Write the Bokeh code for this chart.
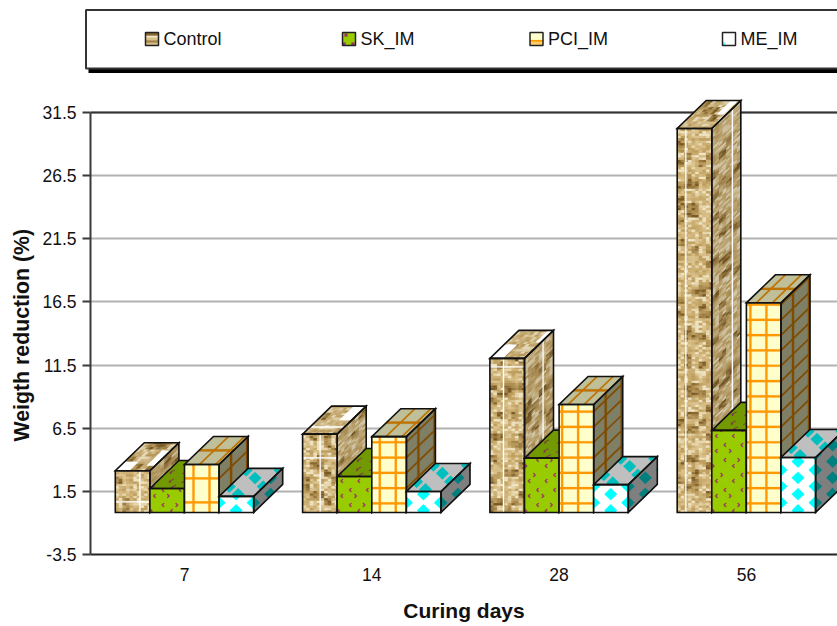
from bokeh.core.properties import value
from bokeh.embed import file_html
from bokeh.layouts import column, row
from bokeh.models import FixedTicker, Range1d, Span, Title
from bokeh.plotting import figure
from bokeh.resources import INLINE

# Weight reduction per curing age
categories = ["7", "14", "28", "56"]
control = [3.3, 6.2, 12.2, 30.4]
sk_im = [1.9, 2.85, 4.3, 6.5]
pci_im = [3.8, 6.0, 8.55, 16.6]
me_im = [1.27, 1.66, 2.2, 4.35]
series_names = ["Control", "SK_IM", "PCI_IM", "ME_IM"]
y_ticks = [-3.5, 1.5, 6.5, 11.5, 16.5, 21.5, 26.5, 31.5]

series = [control, sk_im, pci_im, me_im]
FONT = "Liberation Sans"

# Scale of the value plot, in screen pixels per data unit
PX_PER_CAT = 187.3
PX_PER_VAL = 12.63
PXX = 1 / PX_PER_CAT
PXY = 1 / PX_PER_VAL
BAR_W = 34.6
DEPTH_X = 29.0
DEPTH_Y = 28.0
BASE = -0.17


def clip_poly(poly, umax, vmax):
    """Clip a polygon in face coordinates to the rectangle of the face."""
    def cut(pts, inside, axis, limit):
        out = []
        for i, a in enumerate(pts):
            b = pts[(i + 1) % len(pts)]
            ia, ib = inside(a), inside(b)
            if ia:
                out.append(a)
            if ia != ib:
                t = (limit - a[axis]) / (b[axis] - a[axis])
                out.append((a[0] + t * (b[0] - a[0]), a[1] + t * (b[1] - a[1])))
        return out

    for inside, axis, limit in (
        (lambda p: p[0] >= 0, 0, 0.0),
        (lambda p: p[0] <= umax, 0, umax),
        (lambda p: p[1] >= 0, 1, 0.0),
        (lambda p: p[1] <= vmax, 1, vmax),
    ):
        if not poly:
            return []
        poly = cut(poly, inside, axis, limit)
    return poly


def shade(hex_color, k):
    r, g, b = (int(hex_color[i:i + 2], 16) for i in (1, 3, 5))
    return "#%02x%02x%02x" % (int(r * k), int(g * k), int(b * k))


def rect(u0, v0, u1, v1):
    return [(u0, v0), (u1, v0), (u1, v1), (u0, v1)]


def mix(i, j, seed):
    return ((i * 73856093) ^ (j * 19349663) ^ (seed * 83492791)) * 2654435761 >> 11


WOOD_LIGHT = ["#dcc48f", "#cfb277", "#e8d8ae", "#c9ab6e", "#f0e4c4", "#d6bc85", "#bfa060"]
WOOD_DARK = ["#a5854a", "#8a6a30", "#b8995c", "#9a7a40", "#c0a268", "#7a5a26", "#ad8e52"]


def wood(umax, vmax, k, seed, whites=()):
    polys = [(rect(0, 0, umax, vmax), shade("#d9c494", k))]
    rh, cw = 2.4, 3.6
    for j in range(int(vmax / rh) + 1):
        for i in range(int(umax / cw) + 1):
            blotch = mix(i // 2, j // 3, seed + 5) % 4 == 0
            pal = WOOD_DARK if blotch else WOOD_LIGHT
            c = pal[mix(i, j, seed) % 7]
            polys.append((rect(i * cw, j * rh, (i + 1) * cw + 1.5, (j + 1) * rh), shade(c, k)))
    for u0, v0, u1, v1 in whites:
        polys.append((rect(u0, v0, u1, v1), "#ffffff"))
    return polys


def leaves(umax, vmax, bg, mark):
    polys = [(rect(0, 0, umax, vmax), bg)]
    for i in range(6):
        for j in range(int(vmax / 15) + 2):
            u = i * 8.5 + 3
            v = j * 15 + (7.5 if i % 2 else 1.5)
            d = 1 if (i + j) % 3 else -1
            polys.append(([(u, v), (u + d * 2.2, v + 2.2), (u + d * 3.1, v + 1.4), (u + d * 1.5, v),
                           (u + d * 3.1, v - 1.4), (u + d * 2.2, v - 2.2)], mark))
    return polys


def plaid(umax, vmax, bg, bar, u_off, v_off, v_step):
    polys = [(rect(0, 0, umax, vmax), bg)]
    u = u_off
    while u < umax:
        polys.append((rect(u - 1.1, 0, u + 1.1, vmax), bar))
        u += 16.0
    v = v_off
    while v < vmax:
        polys.append((rect(0, v - 1.1, umax, v + 1.1), bar))
        v += v_step
    return polys


def checks(face, umax, vmax, bg, mark):
    """Diamonds keep their on-screen shape; only their centres follow the face."""
    polys = [(rect(0, 0, umax, vmax), bg)]
    hw, hh = 6.4, 6.2
    if face == "front":
        unshear = lambda sx, sy: (sx, sy)
    elif face == "side":
        unshear = lambda sx, sy: (sx, sy - sx * DEPTH_Y / DEPTH_X)
    else:
        unshear = lambda sx, sy: (sx - sy * DEPTH_X / DEPTH_Y, sy)
    for i in range(-1, int(umax / 17) + 2):
        off = 2.0 if i % 2 else 9.8
        for j in range(-1, int(vmax / 16.3) + 2):
            cu, cv = i * 17.0, off + j * 16.3
            corners = [(-hw, 0), (0, hh), (hw, 0), (0, -hh)]
            poly = []
            for sx, sy in corners:
                du, dv = unshear(sx, sy)
                poly.append((cu + du, cv + dv))
            polys.append((poly, mark))
    return polys


# Fine placement of the printed patterns for each age group
WOOD_COL = [24, 17, 13, 8]
WOOD_ROW = [10, 54, 145, None]
WOOD_SIDE_COL = [None, None, 18, 20]
WOOD_TOP_PATCH = [
    [(0, 0, 14, 9), (26, 5, 34.6, 20)],
    [(0, 6.5, 34.6, 8), (22, 14, 34.6, 28)],
    [(0, 0, 13, 14), (29, 16, 34.6, 28)],
    [(25, 14, 32, 28)],
]
PLAID_U = [9, 8, 3, 4]
PLAID_STEP = [24, 15.3, 15.3, 15.3]


def face_textures(s, g, face, umax, vmax):
    k = {"front": 1.0, "top": 0.75, "side": 0.5}[face]
    if s == 0:
        wk = {"front": 1.0, "top": 0.96, "side": 0.88}[face]
        whites = []
        if face == "front":
            whites.append((WOOD_COL[g], 0, WOOD_COL[g] + 1.2, vmax))
            if WOOD_ROW[g] is not None:
                whites.append((0, WOOD_ROW[g], umax, WOOD_ROW[g] + 1.2))
        elif face == "side" and WOOD_SIDE_COL[g] is not None:
            whites.append((WOOD_SIDE_COL[g], 0, WOOD_SIDE_COL[g] + 1.2, vmax))
        elif face == "top":
            whites.extend(WOOD_TOP_PATCH[g])
        return wood(umax, vmax, wk, g + 1 + len(face), whites)
    if s == 1:
        return leaves(umax, vmax, shade("#99cc00", k), "#993366" if face == "front" else "#80305a")
    if s == 2:
        bg, bar = shade("#ffffcc", k), shade("#ff9900", k)
        if face == "front":
            return plaid(umax, vmax, bg, bar, PLAID_U[g], 9.0 if g else 10.0, PLAID_STEP[g])
        if face == "side":
            return plaid(umax, vmax, bg, bar, 12, 9.0 if g else 10.0, PLAID_STEP[g])
        return plaid(umax, vmax, bg, bar, PLAID_U[g] + 6, 14, 30)
    return checks(face, umax, vmax, shade("#ffffff", k), shade("#00ffff", k))


def key_texture(s):
    """Swatch contents of the legend entries, 13 units square."""
    base = rect(0, 0, 13, 13)
    if s == 0:
        return [(base, "#d9bf88"), (rect(0, 8, 13, 10), "#f0e4c6"), (rect(0, 3, 13, 5), "#a5824a"),
                (rect(0, 10, 13, 13), "#8a672f")]
    if s == 1:
        return [(base, "#99cc00"), (rect(0, 0, 3, 3), "#993366"), (rect(9, 0, 12, 3), "#993366"),
                (rect(2, 9, 5, 12), "#993366")]
    if s == 2:
        return [(base, "#ffffcc"), (rect(0, 0, 13, 5), "#ffcc66"), (rect(0, 4, 13, 5.5), "#ff9900")]
    return [(base, "#ffffff"), (rect(0, 0, 3, 3), "#66ffff")]


def place(polys, origin, uvec, vvec, umax, vmax):
    xs, ys, cols = [], [], []
    for poly, col in polys:
        c = clip_poly(poly, umax, vmax)
        if len(c) < 3:
            continue
        xs.append([origin[0] + a * uvec[0] + b * vvec[0] for a, b in c])
        ys.append([origin[1] + a * uvec[1] + b * vvec[1] for a, b in c])
        cols.append(col)
    return xs, ys, cols


# Value plot
chart = figure(
    width=837, height=536, output_backend="svg", toolbar_location=None,
    x_range=Range1d(-94 / PX_PER_CAT, 653 / PX_PER_CAT),
    y_range=Range1d(-3.5, 31.5 + 22 * PXY),
    min_border_left=90, min_border_right=0, min_border_top=0, min_border_bottom=72,
    x_axis_label="Curing days",
)
chart.outline_line_color = None
chart.background_fill_color = "#ffffff"
chart.xgrid.visible = False
chart.ygrid.ticker = FixedTicker(ticks=y_ticks)
chart.ygrid.grid_line_color = "#b2b2b2"
chart.ygrid.grid_line_width = 2

chart.add_layout(Span(location=y_ticks[-1], dimension="width", line_color="#333333",
                      line_width=2, level="underlay"))

yax = chart.yaxis[0]
yax.ticker = FixedTicker(ticks=y_ticks)
yax.bounds = (y_ticks[0], y_ticks[-1])
yax.major_label_overrides = {t: str(t) for t in y_ticks}
yax.axis_line_color = "#3a3a3a"
yax.axis_line_width = 2
yax.major_tick_line_color = "#3a3a3a"
yax.major_tick_line_width = 2
yax.major_tick_in = 0
yax.major_tick_out = 8
yax.minor_tick_line_color = None
yax.major_label_text_font = FONT
yax.major_label_text_font_size = "17.5px"
yax.major_label_text_color = "#111111"
yax.major_label_standoff = 6

# The axis title sits lower than the middle of the frame, so it is an offset side title
chart.add_layout(Title(
    text="Weigth reduction (%)", align="left", offset=113, standoff=11,
    text_font=FONT, text_font_style="bold", text_font_size="21.3px", text_color="#111111",
), "left")

xax = chart.xaxis[0]
xax.ticker = FixedTicker(ticks=list(range(len(categories))))
xax.major_label_overrides = {i: c for i, c in enumerate(categories)}
xax.axis_line_color = "#222222"
xax.axis_line_width = 2
xax.major_tick_line_color = None
xax.minor_tick_line_color = None
xax.major_label_text_font = FONT
xax.major_label_text_font_size = "17.5px"
xax.major_label_text_color = "#111111"
xax.major_label_standoff = 7
xax.axis_label_text_font = FONT
xax.axis_label_text_font_style = "bold"
xax.axis_label_text_font_size = "21px"
xax.axis_label_text_color = "#111111"
xax.axis_label_standoff = 15

# Extruded bars, painted left to right so that each covers its left neighbour
for g in range(len(categories)):
    for s, vals in enumerate(series):
        xl = g + (s - 2) * BAR_W * PXX
        xr = xl + BAR_W * PXX
        hpx = vals[g] * PX_PER_VAL
        top = BASE + vals[g]
        faces = {
            "front": ((xl, BASE), (PXX, 0), (0, PXY), BAR_W, hpx),
            "side": ((xr, BASE), (PXX, DEPTH_Y / DEPTH_X * PXY), (0, PXY), DEPTH_X, hpx),
            "top": ((xl, top), (PXX, 0), (DEPTH_X / DEPTH_Y * PXX, PXY), BAR_W, DEPTH_Y),
        }
        all_x, all_y, all_c, edge_x, edge_y = [], [], [], [], []
        for name, (origin, uvec, vvec, umax, vmax) in faces.items():
            polys = face_textures(s, g, name, umax, vmax)
            xs, ys, cols = place(polys, origin, uvec, vvec, umax, vmax)
            all_x += xs
            all_y += ys
            all_c += cols
            ex, ey, _ = place([(rect(0, 0, umax, vmax), "")], origin, uvec, vvec, umax, vmax)
            edge_x += ex
            edge_y += ey
        chart.patches(all_x, all_y, fill_color=all_c, line_color=all_c, line_width=0.2)
        chart.patches(edge_x, edge_y, fill_color=None, line_color="#111111", line_width=1.6,
                      line_join="miter")

# Legend strip above the plot, laid out in screen pixels
legend = figure(
    width=837, height=90, output_backend="svg", toolbar_location=None,
    x_range=Range1d(0, 837), y_range=Range1d(90, 0),
    x_axis_location=None, y_axis_location=None,
    min_border=0, min_border_left=0, min_border_right=0, min_border_top=0, min_border_bottom=0,
)
legend.outline_line_color = None
legend.grid.visible = False
legend.quad(left=[88], right=[870], top=[66], bottom=[72.5], fill_color="#000000", line_color=None)
legend.quad(left=[85.5], right=[870], top=[9.5], bottom=[68], fill_color="#ffffff",
            line_color="#333333", line_width=2)

key_left = [145, 342, 529.5, 722]
KEY = 13
for s, (name, kx) in enumerate(zip(series_names, key_left)):
    ky = 45
    xs, ys, cols = place(key_texture(s), (kx, ky), (1, 0), (0, -1), KEY, KEY)
    legend.patches(xs, ys, fill_color=cols, line_color=cols, line_width=0.2)
    legend.quad(left=[kx], right=[kx + KEY], top=[ky - KEY], bottom=[ky], fill_color=None,
                line_color="#222222", line_width=1.5)
    legend.text(x=[kx + 18], y=[38.5], text=[name], text_font=value(FONT), text_font_size="18px",
                text_color="#111111", text_baseline="middle", text_align="left")

page = column(row(legend), chart, spacing=0)
open("out.html", "w").write(file_html(page, INLINE))
